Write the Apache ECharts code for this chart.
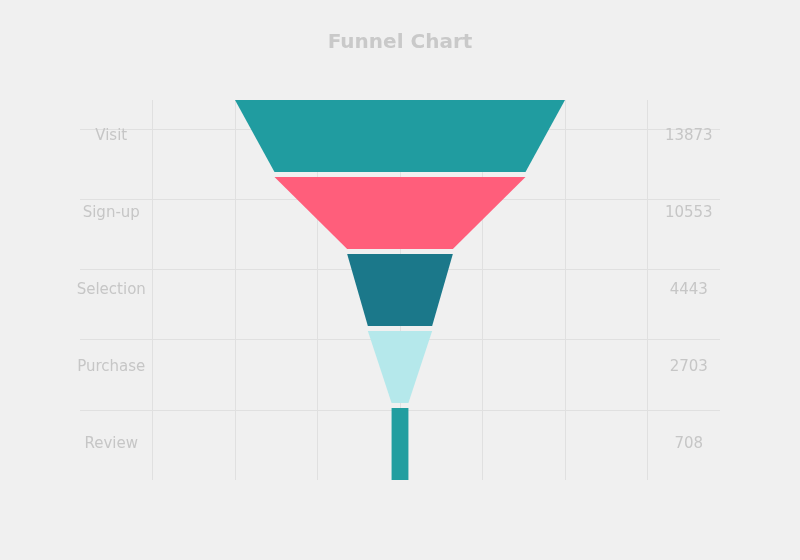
<!DOCTYPE html>
<html>
<head>
<meta charset="utf-8">
<script src="https://cdn.jsdelivr.net/npm/echarts@6/dist/echarts.min.js"></script>
<style>
html,body{margin:0;padding:0;background:#f0f0f0;}
#chart{width:800px;height:560px;}
</style>
</head>
<body>
<div id="chart"></div>
<script>
const categories = ['Visit', 'Sign-up', 'Selection', 'Purchase', 'Review'];
const values = [13873, 10553, 4443, 2703, 708];
const colors = ['#209ca0', '#ff5e7b', '#1b788a', '#b5e8eb', '#229ea0'];

const SEG_H = 72, GAP = 5;
const maxVal = Math.max.apply(null, values);
const textStyle = { fill: '#c6c6c6', fontSize: 15, fontFamily: 'DejaVu Sans' };

const chart = echarts.init(document.getElementById('chart'), null, { renderer: 'canvas' });
chart.setOption({
  backgroundColor: '#f0f0f0',
  animation: false,
  title: {
    text: 'Funnel Chart', left: 'center', top: 28,
    textStyle: { color: '#c9c9c9', fontSize: 20, fontWeight: 'bold', fontFamily: 'DejaVu Sans' }
  },
  grid: [
    { left: 80, right: 80, top: 100, bottom: 80 },
    { left: 70, right: 70, top: 100, bottom: 80 }
  ],
  xAxis: [
    { gridIndex: 0, type: 'value', min: 0, max: 1, show: false },
    { gridIndex: 1, type: 'value', min: -1, max: 1, interval: 0.25,
      axisLine: { show: false }, axisTick: { show: false }, axisLabel: { show: false },
      splitLine: { show: true, showMinLine: false, showMaxLine: false, lineStyle: { color: '#e0e0e0', width: 1 } } }
  ],
  yAxis: [
    { gridIndex: 0, type: 'value', min: 0, max: 380 / 70.25, interval: 1,
      axisLine: { show: false }, axisTick: { show: false }, axisLabel: { show: false },
      splitLine: { show: true, showMinLine: false, showMaxLine: false, lineStyle: { color: '#e0e0e0', width: 1 } } },
    { gridIndex: 1, type: 'value', min: 0, max: 380, inverse: true, show: false }
  ],
  series: [{
    type: 'custom',
    xAxisIndex: 1, yAxisIndex: 1,
    data: values.map((v, i) => [i, v]),
    renderItem: function (params, api) {
      const i = api.value(0);
      const v = api.value(1);
      const next = i + 1 < values.length ? values[i + 1] : v;
      const yTop = i * (SEG_H + GAP), yBot = yTop + SEG_H;
      const wTop = 0.5 * v / maxVal, wBot = 0.5 * next / maxVal;
      const p1 = api.coord([-wTop, yTop]), p2 = api.coord([wTop, yTop]);
      const p3 = api.coord([wBot, yBot]), p4 = api.coord([-wBot, yBot]);
      const lp = api.coord([-0.875, (yTop + yBot) / 2]);
      const rp = api.coord([0.875, (yTop + yBot) / 2]);
      return {
        type: 'group',
        children: [
          { type: 'polygon', shape: { points: [p1, p2, p3, p4] }, style: { fill: colors[i] } },
          { type: 'text', x: lp[0], y: lp[1], style: Object.assign({ text: categories[i], align: 'center', verticalAlign: 'middle' }, textStyle) },
          { type: 'text', x: rp[0], y: rp[1], style: Object.assign({ text: String(v), align: 'center', verticalAlign: 'middle' }, textStyle) }
        ]
      };
    }
  }]
});
</script>
</body>
</html>
